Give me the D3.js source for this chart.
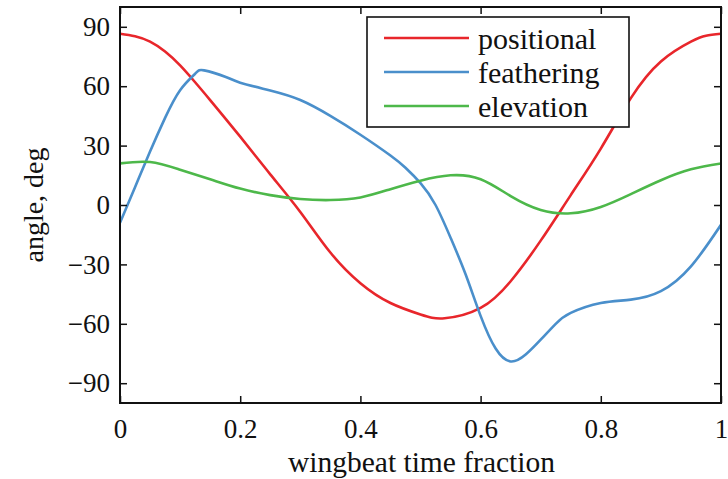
<!DOCTYPE html>
<html>
<head>
<meta charset="utf-8">
<script src="https://cdn.jsdelivr.net/npm/d3@7"></script>
<style>
  html, body { margin: 0; padding: 0; background: #fff; }
  svg { display: block; }
  text { font-family: "Liberation Serif", "Times New Roman", serif; fill: #111; }
</style>
</head>
<body>
<svg id="chart" width="728" height="479"></svg>
<script>
// Joint angles over one wingbeat (degrees)
const positionalTime = [0, 0.025, 0.05, 0.075, 0.1, 0.125, 0.15, 0.2, 0.25, 0.3, 0.35, 0.4,
                        0.45, 0.5, 0.54, 0.6, 0.65, 0.7, 0.75, 0.8, 0.85, 0.9, 0.95, 0.975, 1.0];
const positional = [86.5, 85.2, 82.5, 77.5, 70.5, 62, 53, 34.5, 15.5, -3.5, -24, -39.5,
                    -49.5, -55.3, -57.2, -52, -38.5, -18, 5, 28.5, 54, 72.5, 82.5, 85.5, 86.5];

const featheringTime = [0, 0.025, 0.05, 0.075, 0.1, 0.125, 0.14, 0.175, 0.2, 0.25, 0.3,
                        0.35, 0.4, 0.45, 0.475, 0.5, 0.525, 0.55, 0.575, 0.6, 0.625, 0.65,
                        0.675, 0.7, 0.725, 0.75, 0.8, 0.85, 0.9, 0.95, 1.0];
const feathering = [-9, 9, 27, 44, 58, 66.3, 68, 64.8, 61.8, 57.8, 53,
                    45, 35.5, 25, 18.8, 11, 0, -16.5, -35, -56, -72.5, -79,
                    -75.5, -68, -60, -54.5, -49.5, -47.8, -43.5, -31, -10];

const elevationTime = [0, 0.05, 0.1, 0.15, 0.2, 0.25, 0.3, 0.35, 0.4, 0.45, 0.5,
                       0.55, 0.6, 0.65, 0.7, 0.75, 0.8, 0.85, 0.9, 0.95, 1.0];
const elevation = [21, 21.7, 17.8, 13, 8.3, 5, 3, 2.5, 3.8, 8, 12.3,
                   15, 13, 4.5, -2.5, -4.2, -1, 5.5, 12.5, 18, 21];

const seriesNames = ["positional", "feathering", "elevation"];
const seriesColors = ["#e8262b", "#4a8fcb", "#4db84a"];
const xTicks = [0, 0.2, 0.4, 0.6, 0.8, 1];
const yTicks = [-90, -60, -30, 0, 30, 60, 90];

const series = [
  { name: seriesNames[0], t: positionalTime, v: positional, color: seriesColors[0] },
  { name: seriesNames[1], t: featheringTime, v: feathering, color: seriesColors[1] },
  { name: seriesNames[2], t: elevationTime, v: elevation, color: seriesColors[2] }
];

const svg = d3.select("#chart");
const plotLeft = 120, plotRight = 721, plotTop = 7, plotBottom = 403;

const x = d3.scaleLinear().domain([0, 1]).range([plotLeft, plotRight]);
const y = d3.scaleLinear().domain([-100, 100]).range([plotBottom, plotTop]);

// smooth curves through the sampled angles
const line = d3.line().x(d => x(d[0])).y(d => y(d[1])).curve(d3.curveNatural);
const plot = svg.append("g");
plot.append("clipPath").attr("id", "clip")
  .append("rect").attr("x", plotLeft).attr("y", plotTop)
  .attr("width", plotRight - plotLeft).attr("height", plotBottom - plotTop);
plot.selectAll("path.series")
  .data(series)
  .join("path")
  .attr("class", "series")
  .attr("clip-path", "url(#clip)")
  .attr("fill", "none")
  .attr("stroke", d => d.color)
  .attr("stroke-width", 2.6)
  .attr("stroke-linejoin", "round")
  .attr("d", d => line(d.t.map((t, i) => [t, d.v[i]])));

// axes with inward ticks on all four sides
const tickLen = 7;
function styleAxis(g) {
  g.select(".domain").remove();
  g.selectAll(".tick line").attr("stroke", "#111").attr("stroke-width", 1.5);
}
svg.append("g").attr("transform", `translate(0,${plotBottom})`)
  .call(d3.axisBottom(x).tickValues(xTicks).tickFormat(d3.format("")).tickSize(-tickLen).tickPadding(16))
  .call(styleAxis)
  .call(g => g.selectAll("text").attr("font-size", 27).attr("fill", "#111"));
svg.append("g").attr("transform", `translate(0,${plotTop})`)
  .call(d3.axisTop(x).tickValues(xTicks).tickFormat("").tickSize(-tickLen))
  .call(styleAxis);
svg.append("g").attr("transform", `translate(${plotLeft},0)`)
  .call(d3.axisLeft(y).tickValues(yTicks).tickFormat(d => d < 0 ? "\u2212" + Math.abs(d) : d)
        .tickSize(-tickLen).tickPadding(10))
  .call(styleAxis)
  .call(g => g.selectAll("text").attr("font-size", 27).attr("fill", "#111"));
svg.append("g").attr("transform", `translate(${plotRight},0)`)
  .call(d3.axisRight(y).tickValues(yTicks).tickFormat("").tickSize(-tickLen))
  .call(styleAxis);

// frame
svg.append("rect")
  .attr("x", plotLeft).attr("y", plotTop)
  .attr("width", plotRight - plotLeft).attr("height", plotBottom - plotTop)
  .attr("fill", "none").attr("stroke", "#111").attr("stroke-width", 2);

// axis titles
svg.append("text")
  .attr("x", (plotLeft + plotRight) / 2 + 1).attr("y", 472)
  .attr("text-anchor", "middle").attr("font-size", 29.5)
  .text("wingbeat time fraction");
svg.append("text")
  .attr("transform", `translate(43,${(plotTop + plotBottom) / 2}) rotate(-90)`)
  .attr("text-anchor", "middle").attr("font-size", 28)
  .text("angle, deg");

// legend
const legend = svg.append("g");
legend.append("rect")
  .attr("x", 367).attr("y", 17).attr("width", 262).attr("height", 110)
  .attr("fill", "#fff").attr("stroke", "#111").attr("stroke-width", 1.6);
const rows = legend.selectAll("g.row").data(series).join("g")
  .attr("class", "row")
  .attr("transform", (d, i) => `translate(0,${38 + i * 34})`);
rows.append("line")
  .attr("x1", 384).attr("x2", 469).attr("y1", 0).attr("y2", 0)
  .attr("stroke", d => d.color).attr("stroke-width", 2.6);
rows.append("text")
  .attr("x", 478).attr("y", 11)
  .attr("font-size", 30)
  .text(d => d.name);
</script>
</body>
</html>
